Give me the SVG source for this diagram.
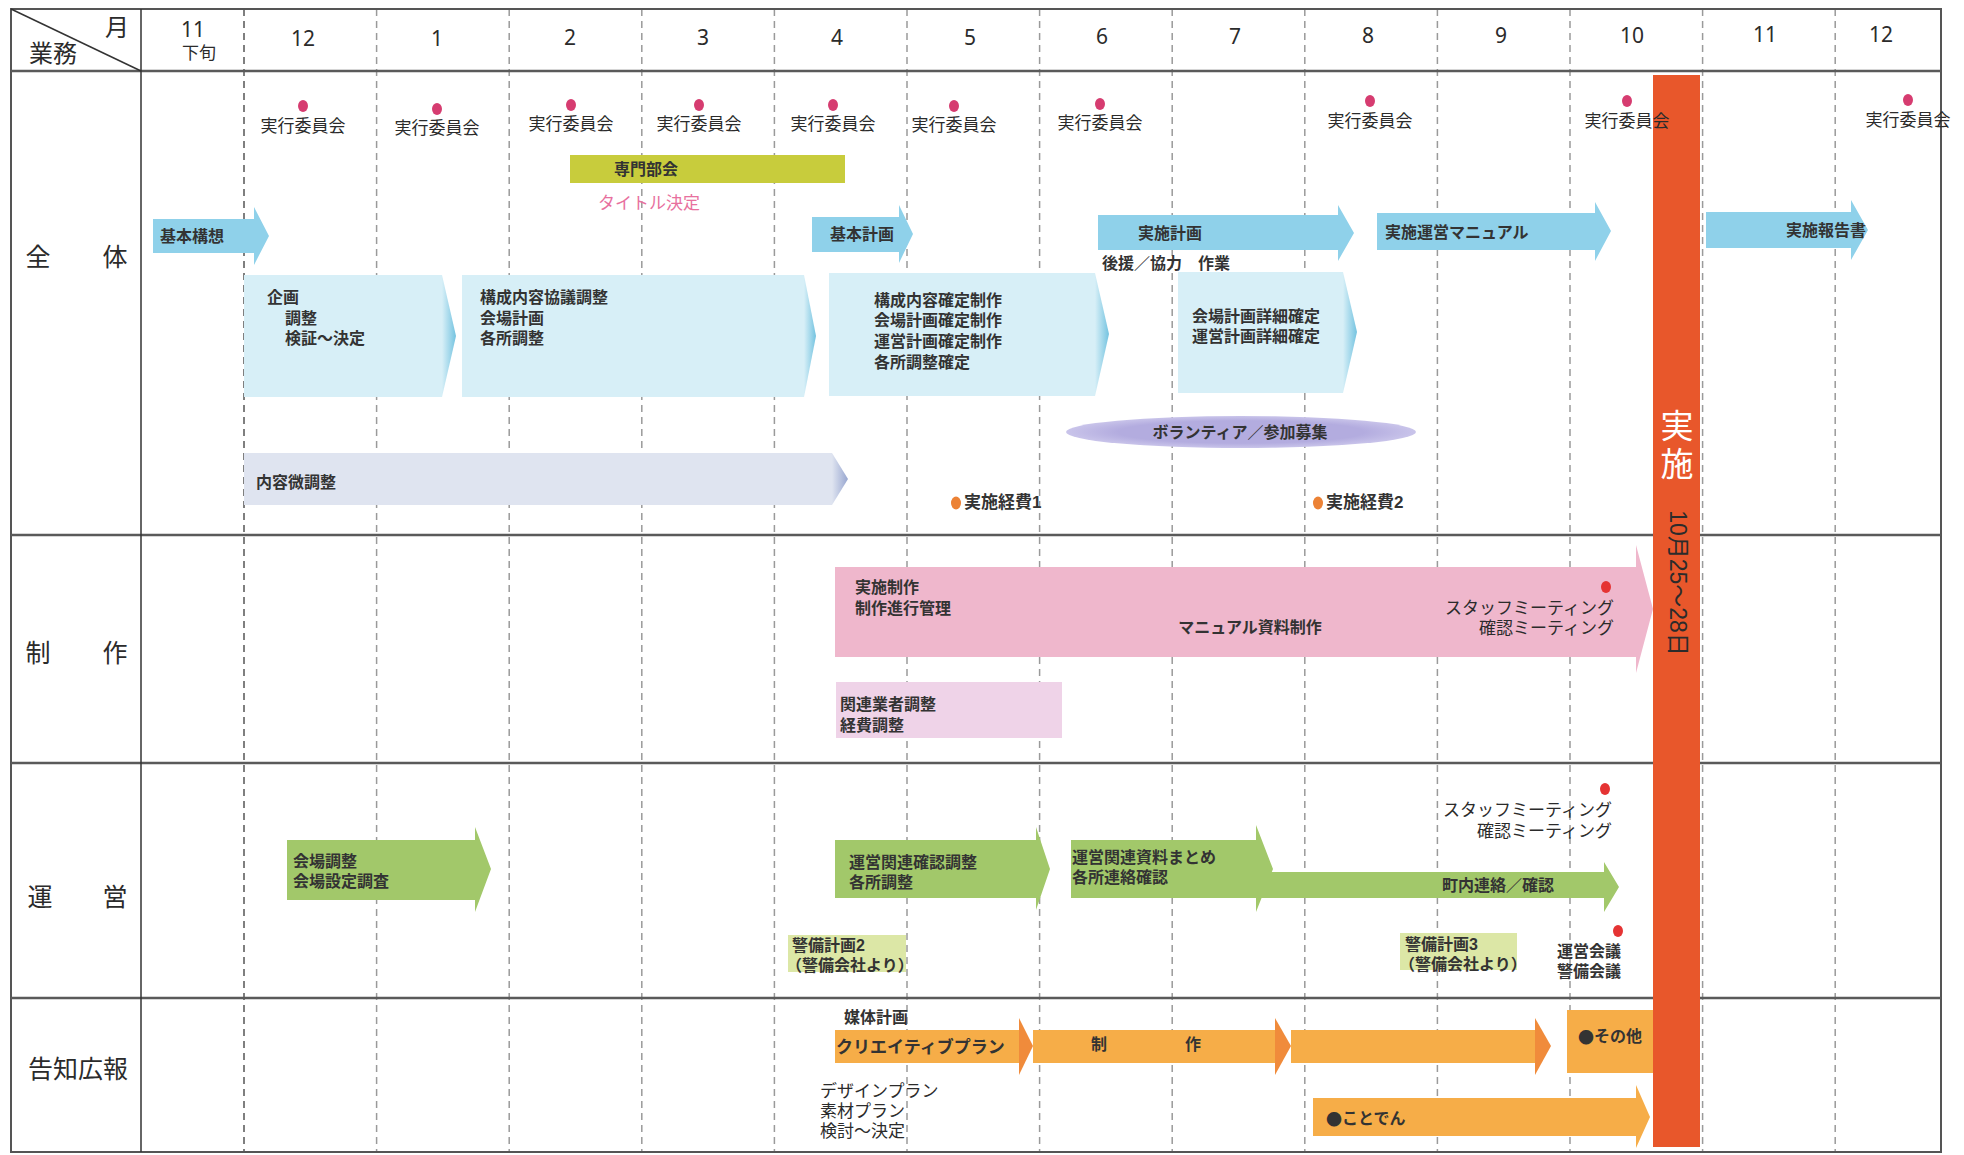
<svg xmlns="http://www.w3.org/2000/svg" width="1964" height="1155" viewBox="0 0 1964 1155">
<style>
text{font-family:"Liberation Sans","Noto Sans CJK JP",sans-serif;fill:#2b2b2b;dominant-baseline:central}
.f17{font-size:17px}
.f16{font-size:16px}
.b{font-weight:bold;fill:#333333}
.cjk{font-family:"Noto Sans CJK JP",sans-serif}
.num{font-family:"Noto Sans","DejaVu Sans",sans-serif;font-size:21px;text-anchor:middle}
.lab{font-size:25px;text-anchor:middle}
.mid{text-anchor:middle}
.end{text-anchor:end}
.dash{stroke:#9a9a9a;stroke-width:1.5;stroke-dasharray:7 5;fill:none}
.rule{stroke:#5a5a5a;stroke-width:2.5;fill:none}
.lblue{fill:#8fd1ea}
.pale{fill:#d7eff7}
.ptip{fill:url(#gTip)}
.green{fill:#a2c86a}
.orange{fill:#f6ad48}
.ohead{fill:#f08b3b}
.mdot{fill:#d63c70}
.rdot{fill:#e53333}
.odot{fill:#ec8235}
</style>
<defs>
<linearGradient id="gTip" x1="0" y1="0" x2="1" y2="0">
<stop offset="0" stop-color="#d7eff7"/>
<stop offset="1" stop-color="#74c3e0"/>
</linearGradient>
<linearGradient id="gTipL" x1="0" y1="0" x2="1" y2="0">
<stop offset="0" stop-color="#dfe4f0"/>
<stop offset="1" stop-color="#97a6d0"/>
</linearGradient>
<radialGradient id="gEll" cx="0.5" cy="0.5" r="0.5">
<stop offset="0.7" stop-color="#b3acdf"/>
<stop offset="1" stop-color="#c9c4ea"/>
</radialGradient>
</defs>

<rect width="1964" height="1155" fill="#ffffff"/>

<g id="grid">
<line class="dash" x1="244" y1="9" x2="244" y2="1152" style="stroke:#555"/>
<line class="dash" x1="376.6" y1="9" x2="376.6" y2="1152"/>
<line class="dash" x1="509.2" y1="9" x2="509.2" y2="1152"/>
<line class="dash" x1="641.8" y1="9" x2="641.8" y2="1152"/>
<line class="dash" x1="774.4" y1="9" x2="774.4" y2="1152"/>
<line class="dash" x1="907" y1="9" x2="907" y2="1152"/>
<line class="dash" x1="1039.6" y1="9" x2="1039.6" y2="1152"/>
<line class="dash" x1="1172.2" y1="9" x2="1172.2" y2="1152"/>
<line class="dash" x1="1304.8" y1="9" x2="1304.8" y2="1152"/>
<line class="dash" x1="1437.4" y1="9" x2="1437.4" y2="1152"/>
<line class="dash" x1="1570" y1="9" x2="1570" y2="1152"/>
<line class="dash" x1="1702.6" y1="9" x2="1702.6" y2="1152"/>
<line class="dash" x1="1835.2" y1="9" x2="1835.2" y2="1152"/>
<rect x="11" y="9" width="1930" height="1143" fill="none" stroke="#555" stroke-width="2"/>
<line class="rule" x1="11" y1="71" x2="1941" y2="71"/>
<line class="rule" x1="11" y1="535" x2="1941" y2="535"/>
<line class="rule" x1="11" y1="763" x2="1941" y2="763"/>
<line class="rule" x1="11" y1="998" x2="1941" y2="998"/>
<line x1="141" y1="9" x2="141" y2="1152" stroke="#333" stroke-width="1.5"/>
<line x1="11" y1="9" x2="141" y2="71" stroke="#333" stroke-width="1.5"/>
</g>

<g id="header">
<text x="117" y="27" class="lab" style="font-size:24px">月</text>
<text x="53" y="53" class="lab" style="font-size:24px">業務</text>
<text class="mid" style="font-size:17px"><tspan x="193" y="29" style="font-family:'Noto Sans',sans-serif;font-size:21px">11</tspan><tspan x="199" y="53">下旬</tspan></text>
<text x="303" y="38" class="num">12</text>
<text x="437" y="38" class="num">1</text>
<text x="570" y="37" class="num">2</text>
<text x="703" y="37" class="num">3</text>
<text x="837" y="37" class="num">4</text>
<text x="970" y="37" class="num">5</text>
<text x="1102" y="36" class="num">6</text>
<text x="1235" y="36" class="num">7</text>
<text x="1368" y="35" class="num">8</text>
<text x="1501" y="35" class="num">9</text>
<text x="1632" y="35" class="num">10</text>
<text x="1765" y="34" class="num">11</text>
<text x="1881" y="34" class="num">12</text>
</g>

<g id="row-labels">
<text x="38" y="257" class="lab">全</text>
<text x="115" y="257" class="lab">体</text>
<text x="38" y="653" class="lab">制</text>
<text x="115" y="653" class="lab">作</text>
<text x="40" y="897" class="lab">運</text>
<text x="115" y="897" class="lab">営</text>
<text x="78" y="1069" class="lab">告知広報</text>
</g>

<g id="exec-bar">
<rect x="1653" y="75" width="47" height="1072" fill="#e8572b"/>
<text class="mid" style="font-size:33px;fill:#ffffff"><tspan x="1677" y="426" style="fill:#ffffff">実</tspan><tspan x="1677" y="464" style="fill:#ffffff">施</tspan></text>
<text transform="translate(1678,583) rotate(90)" class="mid" style="font-size:23px">10月25～28日</text>
</g>

<g id="committee-meetings">
<g id="mtg-12"><ellipse class="mdot" cx="303" cy="106" rx="5" ry="6"/><text x="303" y="126" class="f17 mid">実行委員会</text></g>
<g id="mtg-1"><ellipse class="mdot" cx="437" cy="109" rx="5" ry="6"/><text x="437" y="128" class="f17 mid">実行委員会</text></g>
<g id="mtg-2"><ellipse class="mdot" cx="571" cy="105" rx="5" ry="6"/><text x="571" y="124" class="f17 mid">実行委員会</text></g>
<g id="mtg-3"><ellipse class="mdot" cx="699" cy="105" rx="5" ry="6"/><text x="699" y="124" class="f17 mid">実行委員会</text></g>
<g id="mtg-4"><ellipse class="mdot" cx="833" cy="105" rx="5" ry="6"/><text x="833" y="124" class="f17 mid">実行委員会</text></g>
<g id="mtg-5"><ellipse class="mdot" cx="954" cy="106" rx="5" ry="6"/><text x="954" y="125" class="f17 mid">実行委員会</text></g>
<g id="mtg-6"><ellipse class="mdot" cx="1100" cy="104" rx="5" ry="6"/><text x="1100" y="123" class="f17 mid">実行委員会</text></g>
<g id="mtg-8"><ellipse class="mdot" cx="1370" cy="101" rx="5" ry="6"/><text x="1370" y="121" class="f17 mid">実行委員会</text></g>
<g id="mtg-10"><ellipse class="mdot" cx="1627" cy="101" rx="5" ry="6"/><text x="1627" y="121" class="f17 mid">実行委員会</text></g>
<g id="mtg-12b"><ellipse class="mdot" cx="1908" cy="100" rx="5" ry="6"/><text x="1908" y="120" class="f17 mid">実行委員会</text></g>
</g>

<g id="senmon-bukai">
<rect x="570" y="155" width="275" height="28" fill="#c8cc3c"/>
<text x="646" y="169" class="f16 mid b">専門部会</text>
<text x="649" y="203" class="f17 mid" style="fill:#e8709e">タイトル決定</text>
</g>

<g id="kihon-koso">
<polygon class="lblue" points="153,219 254,219 254,207 269,236 254,265 254,253 153,253"/>
<text x="160" y="236" class="f16 b">基本構想</text>
</g>
<g id="kihon-keikaku">
<polygon class="lblue" points="812,217 899,217 899,205 913,234 899,263 899,252 812,252"/>
<text x="862" y="234" class="f16 mid b">基本計画</text>
</g>
<g id="jisshi-keikaku">
<polygon class="lblue" points="1098,215 1338,215 1338,205 1354,233 1338,261 1338,250 1098,250"/>
<text x="1170" y="233" class="f16 mid b">実施計画</text>
<text x="1102" y="263" class="f16 b">後援／協力　作業</text>
</g>
<g id="jisshi-manual">
<polygon class="lblue" points="1377,213 1595,213 1595,202 1611,231 1595,261 1595,250 1377,250"/>
<text x="1385" y="232" class="f16 b">実施運営マニュアル</text>
</g>
<g id="jisshi-hokoku">
<polygon class="lblue" points="1706,212 1851,212 1851,200 1868,230 1851,260 1851,248 1706,248"/>
<text x="1826" y="230" class="f16 mid b">実施報告書</text>
</g>

<g id="box-kikaku">
<rect class="pale" x="244" y="275" width="198" height="122"/>
<polygon class="ptip" points="442,275 456,336 442,397"/>
<text class="f16 b"><tspan x="267" y="297">企画</tspan><tspan x="285" y="318">調整</tspan><tspan x="285" y="338">検証～決定</tspan></text>
</g>
<g id="box-kosei-kyogi">
<rect class="pale" x="462" y="275" width="342" height="122"/>
<polygon class="ptip" points="804,275 816,336 804,397"/>
<text class="f16 b"><tspan x="480" y="297">構成内容協議調整</tspan><tspan x="480" y="318">会場計画</tspan><tspan x="480" y="338">各所調整</tspan></text>
</g>
<g id="box-kosei-kakutei">
<rect class="pale" x="829" y="273" width="266" height="123"/>
<polygon class="ptip" points="1095,273 1109,334 1095,396"/>
<text class="f16 b"><tspan x="874" y="300">構成内容確定制作</tspan><tspan x="874" y="320">会場計画確定制作</tspan><tspan x="874" y="341">運営計画確定制作</tspan><tspan x="874" y="362">各所調整確定</tspan></text>
</g>
<g id="box-shosai">
<rect class="pale" x="1178" y="272" width="165" height="121"/>
<polygon class="ptip" points="1343,272 1357,332 1343,393"/>
<text class="f16 b"><tspan x="1192" y="316">会場計画詳細確定</tspan><tspan x="1192" y="336">運営計画詳細確定</tspan></text>
</g>

<g id="volunteer">
<ellipse cx="1241" cy="432" rx="175" ry="16" fill="url(#gEll)"/>
<text x="1240" y="432" class="f16 mid b">ボランティア／参加募集</text>
</g>

<g id="naiyo-bichosei">
<rect x="244" y="453" width="588" height="52" fill="#dfe4f0"/>
<polygon points="832,453 848,479 832,505" fill="url(#gTipL)"/>
<text x="256" y="482" class="f16 b">内容微調整</text>
</g>

<g id="keihi-1"><ellipse class="odot" cx="956" cy="503" rx="5" ry="6.5"/><text x="964" y="502" class="f17 b">実施経費1</text></g>
<g id="keihi-2"><ellipse class="odot" cx="1318" cy="503" rx="5" ry="6.5"/><text x="1326" y="502" class="f17 b">実施経費2</text></g>

<g id="jisshi-seisaku">
<polygon points="835,567 1636,567 1636,545 1653,609 1636,673 1636,657 835,657" fill="#efb7cc"/>
<text class="f16 b"><tspan x="855" y="587">実施制作</tspan><tspan x="855" y="608">制作進行管理</tspan></text>
<text x="1250" y="627" class="f16 mid b">マニュアル資料制作</text>
<ellipse class="rdot" cx="1606" cy="587" rx="5" ry="6"/>
<text class="f17 end"><tspan x="1614" y="608">スタッフミーティング</tspan><tspan x="1614" y="628">確認ミーティング</tspan></text>
</g>
<g id="kanren-gyosha">
<rect x="836" y="682" width="226" height="56" fill="#efd3e8"/>
<text class="f16 b"><tspan x="840" y="704">関連業者調整</tspan><tspan x="840" y="725">経費調整</tspan></text>
</g>

<g id="kaijo-chosei">
<polygon class="green" points="287,840 475,840 475,827 491,869 475,912 475,900 287,900"/>
<text class="f16 b"><tspan x="293" y="861">会場調整</tspan><tspan x="293" y="881">会場設定調査</tspan></text>
</g>
<g id="unei-kakunin">
<polygon class="green" points="835,840 1036,840 1036,827 1050,869 1036,910 1036,898 835,898"/>
<text class="f16 b"><tspan x="849" y="862">運営関連確認調整</tspan><tspan x="849" y="882">各所調整</tspan></text>
</g>
<g id="unei-shiryo">
<polygon class="green" points="1071,840 1256,840 1256,825 1273,869 1256,912 1256,898 1071,898"/>
<text class="f16 b"><tspan x="1072" y="857">運営関連資料まとめ</tspan><tspan x="1072" y="877">各所連絡確認</tspan></text>
</g>
<g id="chonai-renraku">
<polygon class="green" points="1256,872 1604,872 1604,862 1619,887 1604,912 1604,898 1256,898"/>
<text x="1498" y="885" class="f16 mid b">町内連絡／確認</text>
</g>
<g id="staff-mtg-unei">
<ellipse class="rdot" cx="1605" cy="789" rx="5" ry="6"/>
<text class="f17 end"><tspan x="1612" y="810">スタッフミーティング</tspan><tspan x="1612" y="831">確認ミーティング</tspan></text>
</g>
<g id="keibi-2">
<rect x="788" y="935" width="118" height="37" fill="#dce7a6"/>
<text class="f16 b"><tspan x="792" y="945">警備計画2</tspan><tspan x="786" y="965">（警備会社より）</tspan></text>
</g>
<g id="keibi-3">
<rect x="1400" y="933" width="117" height="37" fill="#dce7a6"/>
<text class="f16 b"><tspan x="1405" y="944">警備計画3</tspan><tspan x="1399" y="964">（警備会社より）</tspan></text>
</g>
<g id="unei-kaigi">
<ellipse class="rdot" cx="1618" cy="931" rx="5" ry="6"/>
<text class="f16 b"><tspan x="1557" y="951">運営会議</tspan><tspan x="1557" y="971">警備会議</tspan></text>
</g>

<g id="baitai">
<text x="844" y="1017" class="f16 b">媒体計画</text>
</g>
<g id="seisaku-2">
<rect class="orange" x="1033" y="1030" width="242" height="33"/>
<polygon class="ohead" points="1275,1018 1291,1046 1275,1075"/>
<text x="1099" y="1044" class="f16 mid b">制</text>
<text x="1193" y="1044" class="f16 mid b">作</text>
</g>
<g id="creative-plan">
<rect class="orange" x="835" y="1030" width="184" height="33"/>
<polygon class="ohead" points="1019,1018 1033,1046 1019,1075"/>
<text x="836" y="1047" class="f17 b">クリエイティブプラン</text>
</g>
<g id="seisaku-3">
<rect class="orange" x="1291" y="1030" width="244" height="33"/>
<polygon class="ohead" points="1535,1018 1551,1046 1535,1075"/>
</g>
<g id="sonota">
<rect class="orange" x="1567" y="1010" width="86" height="63"/>
<text x="1578" y="1036" class="f16 b"><tspan class="cjk">●</tspan>その他</text>
</g>
<g id="kotoden">
<polygon class="orange" points="1313,1098 1636,1098 1636,1085 1650,1117 1636,1148 1636,1136 1313,1136"/>
<text x="1326" y="1118" class="f16 b"><tspan class="cjk">●</tspan>ことでん</text>
</g>
<g id="design-plan">
<text class="f17"><tspan x="820" y="1091">デザインプラン</tspan><tspan x="820" y="1111">素材プラン</tspan><tspan x="820" y="1131">検討～決定</tspan></text>
</g>

<g id="connectors"></g>
</svg>
